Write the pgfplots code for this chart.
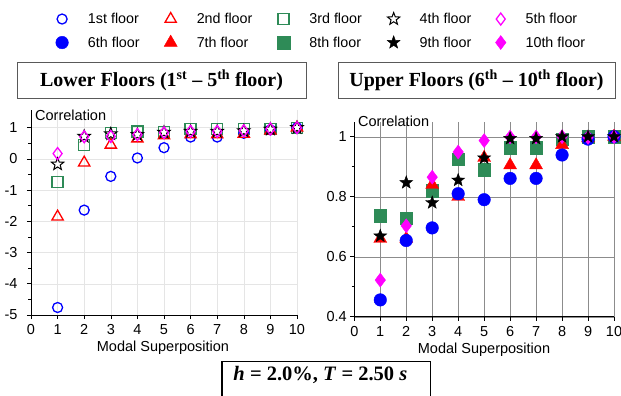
\documentclass[border=0pt]{standalone}
\usepackage{pgfplots}
\pgfplotsset{compat=1.18}
\usepackage{fontspec}
\setmainfont{Liberation Sans}
\newfontfamily\timesfont{Liberation Serif}
\definecolor{myblue}{RGB}{0,0,255}
\definecolor{myred}{RGB}{255,0,0}
\definecolor{mygreen}{RGB}{46,139,87}
\definecolor{mymag}{RGB}{255,0,255}
\newcommand\tkf{\fontsize{14.5bp}{17bp}\selectfont}
\newcommand\lgf{\fontsize{14.3bp}{17bp}\selectfont}
\newcommand\ttlf{\timesfont\bfseries\fontsize{20bp}{22bp}\selectfont}
\newcommand\bxf{\timesfont\bfseries\fontsize{20.5bp}{22bp}\selectfont}
\pgfdeclareplotmark{fivestar}{%
  \pgfpathmoveto{\pgfpointpolar{90}{\pgfplotmarksize}}%
  \pgfpathlineto{\pgfpointpolar{126}{0.42\pgfplotmarksize}}%
  \pgfpathlineto{\pgfpointpolar{162}{\pgfplotmarksize}}%
  \pgfpathlineto{\pgfpointpolar{198}{0.42\pgfplotmarksize}}%
  \pgfpathlineto{\pgfpointpolar{234}{\pgfplotmarksize}}%
  \pgfpathlineto{\pgfpointpolar{270}{0.42\pgfplotmarksize}}%
  \pgfpathlineto{\pgfpointpolar{306}{\pgfplotmarksize}}%
  \pgfpathlineto{\pgfpointpolar{342}{0.42\pgfplotmarksize}}%
  \pgfpathlineto{\pgfpointpolar{18}{\pgfplotmarksize}}%
  \pgfpathlineto{\pgfpointpolar{54}{0.42\pgfplotmarksize}}%
  \pgfpathclose
  \pgfusepathqfillstroke
}
\pgfplotsset{
 s1/.style={only marks, mark=o, mark size=5bp, color=myblue, mark options={line width=1.3bp}},
 s2/.style={only marks, mark=triangle, mark size=6.5bp, color=myred, mark options={line width=1.3bp}},
 s3/.style={only marks, mark=square, mark size=5.5bp, color=mygreen, mark options={line width=1.3bp}},
 s4/.style={only marks, mark=fivestar, mark size=6.5bp, color=black, mark options={fill=white,line width=1bp}},
 s5/.style={only marks, mark=diamond, mark size=6bp, color=mymag, mark options={line width=1.3bp}},
 s6/.style={only marks, mark=*, mark size=6.3bp, color=myblue},
 s7/.style={only marks, mark=triangle*, mark size=7.5bp, color=myred},
 s8/.style={only marks, mark=square*, mark size=6.3bp, color=mygreen},
 s9/.style={only marks, mark=fivestar, mark size=6.8bp, color=black, mark options={fill=black}},
 s10/.style={only marks, mark=diamond*, mark size=7bp, color=mymag},
 common/.style={
   scale only axis,
   anchor=south west,
   xmin=0, xmax=10,
   axis x line*=bottom, axis y line*=left,
   xtick={0,...,10},
   tick align=outside,
   major tick length=4bp, minor tick length=2.5bp,
   tick style={black, line width=0.6bp},
   axis line style={line width=0.8bp},
   tick label style={font=\tkf},
   /pgf/number format/assume math mode=true,
   grid=major,
   xticklabel style={yshift=-2bp},
 },
 legaxis/.style={
   hide axis, scale only axis,
   at={(0bp,0bp)}, anchor=south west,
   width=100bp, height=100bp,
   xmin=0, xmax=1, ymin=0, ymax=1,
   legend cell align=left,
   legend style={anchor=west, draw=none, fill=none, font=\lgf,
     inner sep=0pt, outer sep=0pt, row sep=7.7bp,
     /tikz/every odd column/.append style={column sep=17.6bp}},
 },
}
\begin{document}
\begin{tikzpicture}
\path[use as bounding box] (0bp,0bp) rectangle (621bp,396bp);
% left axis
\begin{axis}[common,
  at={(31bp,81bp)}, width=266bp, height=205bp,
  ymin=-5, ymax=1.567,
  ytick={-5,...,1}, yticklabels={-5,-4,-3,-2,-1,0,1},
  minor ytick={-4.5,-3.5,-2.5,-1.5,-0.5,0.5},
  yticklabel style={xshift=-6bp},
  grid style={line width=0.4bp, draw=black!10},
]
\addplot[s3] coordinates {(1,-0.73)(2,0.45)(3,0.82)(4,0.88)(5,0.86)(6,0.96)(7,0.96)(8,0.95)(9,0.95)(10,1.0)};
\addplot[s1] coordinates {(1,-4.76)(2,-1.64)(3,-0.56)(4,0.03)(5,0.36)(6,0.70)(7,0.70)(8,0.82)(9,0.93)(10,1.0)};
\addplot[s2] coordinates {(1,-1.85)(2,-0.12)(3,0.45)(4,0.65)(5,0.75)(6,0.78)(7,0.78)(8,0.80)(9,0.90)(10,1.0)};
\addplot[s4] coordinates {(1,-0.17)(2,0.72)(3,0.80)(4,0.78)(5,0.85)(6,0.88)(7,0.88)(8,0.90)(9,0.95)(10,1.0)};
\addplot[s5] coordinates {(1,0.17)(2,0.71)(3,0.72)(4,0.78)(5,0.84)(6,0.88)(7,0.88)(8,0.90)(9,0.96)(10,1.0)};
\end{axis}
% right axis
\begin{axis}[common,
  at={(354.3bp,79.3bp)}, width=259.7bp, height=195bp,
  ymin=0.4, ymax=1.05,
  ytick={0.4,0.6,0.8,1}, yticklabels={0.4,0.6,0.8,1},
  minor ytick={0.5,0.7,0.9},
  grid style={line width=0.4bp, draw=black!45},
]
\addplot[s8] coordinates {(1,0.737)(2,0.728)(3,0.82)(4,0.925)(5,0.89)(6,0.964)(7,0.964)(8,0.992)(9,1.0)(10,1.0)};
\addplot[s7] coordinates {(1,0.66)(2,0.66)(3,0.84)(4,0.80)(5,0.93)(6,0.905)(7,0.905)(8,0.973)(9,0.995)(10,1.0)};
\addplot[s6] coordinates {(1,0.456)(2,0.654)(3,0.696)(4,0.81)(5,0.79)(6,0.861)(7,0.861)(8,0.939)(9,0.992)(10,1.0)};
\addplot[s10] coordinates {(1,0.522)(2,0.703)(3,0.865)(4,0.949)(5,0.987)(6,0.999)(7,0.999)(8,1.0)(9,0.998)(10,1.0)};
\addplot[s9] coordinates {(1,0.669)(2,0.847)(3,0.78)(4,0.855)(5,0.929)(6,0.994)(7,0.994)(8,1.0)(9,1.0)(10,1.0)};
\end{axis}
% legend, one column per hidden axis
\begin{axis}[legaxis, legend style={at={(0.558,3.652)}}]
\addlegendimage{s1}\addlegendentry{1st floor}
\addlegendimage{s6}\addlegendentry{6th floor}
\end{axis}
\begin{axis}[legaxis, legend style={at={(1.642,3.652)}}]
\addlegendimage{s2}\addlegendentry{2nd floor}
\addlegendimage{s7}\addlegendentry{7th floor}
\end{axis}
\begin{axis}[legaxis, legend style={at={(2.772,3.652)}}]
\addlegendimage{s3}\addlegendentry{3rd floor}
\addlegendimage{s8}\addlegendentry{8th floor}
\end{axis}
\begin{axis}[legaxis, legend style={at={(3.872,3.652)}}]
\addlegendimage{s4}\addlegendentry{4th floor}
\addlegendimage{s9}\addlegendentry{9th floor}
\end{axis}
\begin{axis}[legaxis, legend style={at={(4.955,3.652)}}]
\addlegendimage{s5}\addlegendentry{5th floor}
\addlegendimage{s10}\addlegendentry{10th floor}
\end{axis}
% axis labels
\node[anchor=west, font=\tkf, inner sep=0pt] at (35bp,281bp) {Correlation};
\node[anchor=west, font=\tkf, inner sep=0pt] at (358bp,274.3bp) {Correlation};
\node[font=\tkf, inner sep=0pt] at (163bp,48bp) {Modal Superposition};
\node[font=\tkf, inner sep=0pt] at (484bp,46bp) {Modal Superposition};
% title boxes
\draw[line width=0.8bp, draw=black!65] (17bp,297.7bp) rectangle (306bp,333.7bp);
\node[font=\ttlf, inner sep=0pt] at (161.5bp,315.7bp) {Lower Floors (1\textsuperscript{st} – 5\textsuperscript{th} floor)};
\draw[line width=0.8bp, draw=black!65] (338bp,297.7bp) rectangle (615bp,333.7bp);
\node[font=\ttlf, inner sep=0pt] at (476.5bp,315.7bp) {Upper Floors (6\textsuperscript{th} – 10\textsuperscript{th} floor)};
% bottom box
\draw[line width=1.3bp] (222bp,-10bp) rectangle (430.7bp,34.3bp);
\node[font=\bxf, inner sep=0pt] at (320.4bp,21bp) {\textit{h} = 2.0\%, \textit{T} = 2.50 \textit{s}};
\end{tikzpicture}
\end{document}
